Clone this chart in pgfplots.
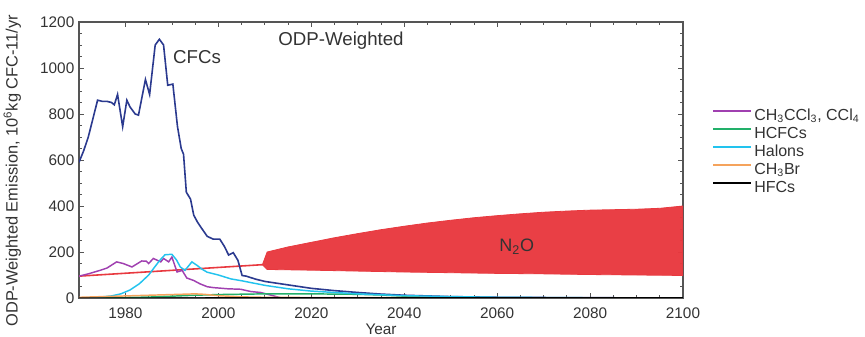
\documentclass[border=0pt]{standalone}
\usepackage{pgfplots}
\pgfplotsset{compat=1.18}
\usepgfplotslibrary{fillbetween}
\usepackage{fontspec}
\setmainfont{Liberation Sans}

\definecolor{cfc}{HTML}{2B3A8F}
\definecolor{n2o}{HTML}{E8393F}
\definecolor{halon}{HTML}{22C3EE}
\definecolor{cclfour}{HTML}{A040B0}
\definecolor{hcfc}{HTML}{22B06A}
\definecolor{chbr}{HTML}{F5A35C}
\definecolor{axgray}{HTML}{555555}
\definecolor{txt}{HTML}{333333}

% a longer line sample for the legend keys
\newcommand{\keyline}[2]{%
  \addlegendimage{legend image code/.code={\draw[#1] (0pt,0.35em) -- (28pt,0.35em);}}%
  \addlegendentry{#2}}

\begin{document}
\begin{tikzpicture}
\begin{axis}[
  name=ax,
  scale only axis,
  width=453pt, height=207pt,
  xmin=1970, xmax=2100, ymin=0, ymax=1200,
  xtick={1980,2000,...,2100},
  ytick={0,200,...,1200},
  minor x tick num=3,
  minor y tick num=3,
  tick align=inside,
  major tick length=4pt,
  minor tick length=2.5pt,
  axis line style={axgray, line width=0.8pt},
  every tick/.style={axgray, line width=0.6pt},
  tick label style={font=\fontsize{11.5}{13}\selectfont, text=txt},
  xticklabel style={yshift=-4pt},
  /pgf/number format/assume math mode=true,
  /pgf/number format/1000 sep={},
  every axis x label/.style={at={(axis description cs:0.5,0)}, yshift=-23.5pt, anchor=center,
    font=\fontsize{11.5}{13}\selectfont, text=txt},
  every axis y label/.style={at={(axis description cs:0,0.5)}, xshift=-50pt, yshift=-8pt,
    rotate=90, anchor=center, font=\fontsize{12.3}{14}\selectfont, text=txt},
  xlabel={Year},
  ylabel={ODP-Weighted Emission, 10\textsuperscript{6}kg CFC-11/yr},
  legend style={at={(axis description cs:1,0.696)}, xshift=22pt, anchor=north west,
    draw=none, fill=none, font=\fontsize{12}{14}\selectfont, text=txt,
    row sep=-0.5pt, inner sep=0pt},
  legend cell align=left,
  clip=true,
]

% N2O: single line up to 2010, then the range of future projections
\addplot[n2o, line width=1.2pt, forget plot] coordinates {(1970,95) (2009.6,145)};
\addplot[name path=upper, draw=n2o, line width=0.6pt, forget plot] coordinates {
  (2009.5,146) (2010.5,200) (2015,222) (2020,242) (2025,262) (2030,280)
  (2035,297) (2040,312) (2045,326) (2050,338) (2055,349) (2060,358)
  (2065,366) (2070,373) (2075,378) (2080,382) (2085,384) (2090,386)
  (2095,390) (2100,400)};
\addplot[name path=lower, draw=n2o, line width=0.6pt, forget plot] coordinates {
  (2009.5,144) (2010.5,124) (2020,121) (2030,117) (2040,113) (2050,110)
  (2060,107) (2070,105) (2080,102) (2090,100) (2100,98)};
\addplot[fill=n2o, fill opacity=0.97, forget plot] fill between[of=upper and lower];

% CFCs
\addplot[cfc, line width=1.2pt, forget plot] coordinates {
  (1970,590) (1971,640) (1972,700) (1973,780) (1974,860) (1975,855)
  (1976,855) (1977,850) (1977.6,840) (1978.3,885) (1979.4,745) (1980.3,860)
  (1981,830) (1982.1,800) (1982.8,795) (1984.3,950) (1985.2,885) (1986.4,1100)
  (1987.3,1125) (1988.2,1100) (1989.1,925) (1990.2,930) (1991.2,745) (1992,650)
  (1992.5,625) (1993.1,460) (1994,430) (1994.7,360) (1995.5,330) (1996.5,300)
  (1997.6,268) (1998.9,256) (2000.3,256) (2001.3,224) (2002.2,187) (2003.2,197)
  (2004.2,164) (2005.1,98) (2006,95) (2008,82) (2010,72) (2015,57) (2020,42)
  (2025,32) (2030,24) (2035,17) (2040,12) (2050,6) (2060,3) (2080,1) (2100,0.5)};

% CH3CCl3 + CCl4
\addplot[cclfour, line width=1.1pt, forget plot] coordinates {
  (1970,95) (1972,105) (1974.5,120) (1976,130) (1978.1,157) (1979.5,150)
  (1981.4,135) (1983.5,161) (1984.5,160) (1985,150) (1986,172) (1987.6,157)
  (1988.2,172) (1989.3,157) (1990,178) (1991.1,113) (1992.2,120) (1993.2,87)
  (1994.7,76) (1996,62) (1997.6,49) (1999,45) (2000.3,43) (2002,40)
  (2004.8,38) (2007,28) (2009.1,24) (2011,14) (2013.4,1) (2015,0) (2100,0)};

% HCFCs
\addplot[hcfc, line width=1.1pt, forget plot] coordinates {
  (1970,0) (1975,1) (1980,2) (1985,4) (1990,8) (1995,12) (2000,15) (2010,18)
  (2020,18) (2030,16) (2035,13) (2040,8) (2045,4) (2050,2) (2060,1) (2100,0)};

% Halons
\addplot[halon, line width=1.1pt, forget plot] coordinates {
  (1970,0) (1974,3) (1977,9) (1979,18) (1981,35) (1983,62) (1985,100)
  (1986.3,135) (1987.4,164) (1988.5,188) (1990,190) (1991,165) (1991.8,135)
  (1992.8,120) (1994.3,157) (1995.4,142) (1996.5,125) (1997.6,112) (2000,100)
  (2002.7,83) (2005,75) (2010,55) (2015,40) (2020,30) (2030,18) (2040,10)
  (2050,6) (2060,3) (2080,1) (2100,0.5)};

% CH3Br
\addplot[chbr, line width=1.1pt, forget plot] coordinates {
  (1970,3) (1975,6) (1980,9) (1985,12) (1990,15) (1995,18) (1997,16)
  (2000,10) (2005,5) (2010,3) (2020,2) (2050,1) (2100,1)};

% HFCs
\addplot[black, line width=1.0pt, forget plot] coordinates {
  (1970,0) (1990,0) (2000,0.5) (2020,1) (2050,1) (2100,1)};

% legend keys
\keyline{cclfour, line width=1.3pt}{CH\textsubscript{3}CCl\textsubscript{3}, CCl\textsubscript{4}}
\keyline{hcfc, line width=1.3pt}{HCFCs}
\keyline{halon, line width=1.3pt}{Halons}
\keyline{chbr, line width=1.3pt}{CH\textsubscript{3}Br}
\keyline{black, line width=1.0pt}{HFCs}

\node[font=\fontsize{14}{16}\selectfont, text=txt] at (axis cs:1995.4,1046) {CFCs};
\node[font=\fontsize{14}{16}\selectfont, text=txt] at (axis cs:2026.4,1120) {ODP-Weighted};
\node[font=\fontsize{13.5}{16}\selectfont, text=txt] at (axis cs:2064.2,224) {N\textsubscript{2}O};
\end{axis}
\pgfresetboundingbox
\path (ax.south west) ++(-59.25pt,-28.5pt) rectangle ++(648.75pt,252pt);
\end{tikzpicture}
\end{document}
